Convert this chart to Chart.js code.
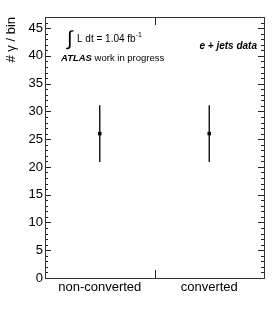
<!DOCTYPE html>
<html>
<head>
<meta charset="utf-8">
<script src="https://cdn.jsdelivr.net/npm/chart.js@4/dist/chart.umd.min.js"></script>
<style>
  html, body { margin: 0; padding: 0; background: #fff; }
  #wrap { width: 279px; height: 332px; }
</style>
</head>
<body>
<div id="wrap"><canvas id="grafico" width="279" height="332"></canvas></div>
<script>
// categorias e valores
const categorias = ['non-converted', 'converted']
const contagens = [26, 26]
const erros = [5.1, 5.1]
const yMax = 47

const fonte = 'Liberation Sans, Arial, Helvetica, sans-serif'

// desenha barras de erro, ticks internos (estilo ROOT), moldura e textos
const enfeites = {
    id: 'enfeites',
    afterDraw(chart) {
        const ctx = chart.ctx
        const x = chart.scales.x
        const y = chart.scales.y
        const area = chart.chartArea
        ctx.save()
        // barras de erro
        ctx.strokeStyle = '#111'
        ctx.lineWidth = 1.4
        contagens.forEach((v, i) => {
            const px = x.getPixelForValue(i)
            ctx.beginPath()
            ctx.moveTo(px, y.getPixelForValue(v + erros[i]))
            ctx.lineTo(px, y.getPixelForValue(v - erros[i]))
            ctx.stroke()
        })
        // ticks do eixo y, dos dois lados
        ctx.strokeStyle = '#222'
        ctx.lineWidth = 1
        ctx.beginPath()
        for (let v = 0; v <= yMax; v++) {
            const py = Math.round(y.getPixelForValue(v)) + 0.5
            const len = (v % 5 == 0) ? 6 : 3
            ctx.moveTo(area.left, py)
            ctx.lineTo(area.left + len, py)
            ctx.moveTo(area.right, py)
            ctx.lineTo(area.right - len, py)
        }
        // tick entre as categorias
        const meio = Math.round((x.getPixelForValue(0) + x.getPixelForValue(1)) / 2) + 0.5
        ctx.moveTo(meio, area.bottom)
        ctx.lineTo(meio, area.bottom - 8)
        ctx.moveTo(meio, area.top)
        ctx.lineTo(meio, area.top + 8)
        ctx.stroke()
        // moldura
        ctx.strokeStyle = '#333'
        ctx.strokeRect(area.left + 0.5, area.top + 0.5, area.right - area.left, area.bottom - area.top)

        // textos
        ctx.fillStyle = '#000'
        ctx.textBaseline = 'alphabetic'
        ctx.textAlign = 'left'
        ctx.font = '20px ' + fonte
        ctx.fillText('\u222B', 67, 45)
        ctx.font = '10px ' + fonte
        ctx.fillText('L dt = 1.04 fb', 77, 42)
        let w = ctx.measureText('L dt = 1.04 fb').width
        ctx.font = '7px ' + fonte
        ctx.fillText('-1', 77 + w, 37)

        ctx.font = 'italic bold 9.5px ' + fonte
        ctx.fillText('ATLAS', 61, 61)
        w = ctx.measureText('ATLAS').width
        ctx.font = '9.5px ' + fonte
        ctx.fillText(' work in progress', 61 + w, 61)

        ctx.font = 'italic bold 10px ' + fonte
        ctx.textAlign = 'right'
        ctx.fillText('e + jets data', 257, 49)
        ctx.restore()
    }
}

new Chart(document.getElementById('grafico'), {
    type: 'line',
    data: {
        labels: categorias,
        datasets: [{
            label: 'e + jets data',
            data: contagens,
            showLine: false,
            pointStyle: 'rect',
            pointRadius: 2.5,
            pointBackgroundColor: '#000',
            pointBorderColor: '#000',
            pointBorderWidth: 0
        }]
    },
    options: {
        responsive: false,
        animation: false,
        layout: { padding: { top: 17, right: 15, left: 0, bottom: 0 } },
        plugins: { legend: { display: false }, tooltip: { enabled: false } },
        scales: {
            x: {
                type: 'category',
                offset: true,
                grid: { display: false, drawTicks: false, tickLength: 0 },
                border: { display: false },
                ticks: { color: '#000', font: { family: fonte, size: 13 }, padding: 2, maxRotation: 0 },
                afterFit(scale) { scale.height = 54 }
            },
            y: {
                min: 0,
                max: yMax,
                grid: { display: false, drawTicks: false, tickLength: 0 },
                border: { display: false },
                ticks: { stepSize: 5, includeBounds: false, color: '#000', font: { family: fonte, size: 13 }, padding: 2 },
                title: { display: true, text: '# \u03B3 / bin', align: 'end', color: '#000', font: { family: fonte, size: 13 }, padding: { top: 4, bottom: 0 } },
                afterFit(scale) { scale.width = 45 }
            }
        }
    },
    plugins: [enfeites]
})
</script>
</body>
</html>
